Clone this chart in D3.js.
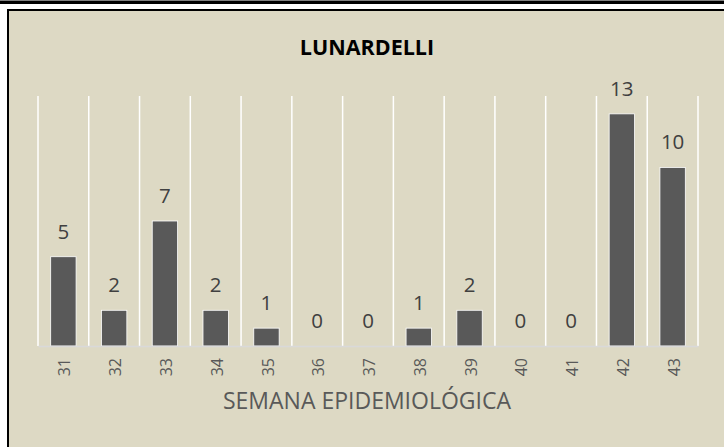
<!DOCTYPE html>
<html lang="pt">
<head>
<meta charset="utf-8">
<title>Lunardelli</title>
<script src="https://d3js.org/d3.v7.min.js"></script>
<style>
  body { margin: 0; background: #fff; }
  svg { display: block; }
</style>
</head>
<body>
<script>
// data
const semanas = ["31","32","33","34","35","36","37","38","39","40","41","42","43"];
const casos   = [5, 2, 7, 2, 1, 0, 0, 1, 2, 0, 0, 13, 10];
const titulo = "LUNARDELLI";
const tituloX = "SEMANA EPIDEMIOLÓGICA";

const W = 724, H = 447;
const plot = { left: 38, right: 698, top: 96, bottom: 346 };
const font = "'Open Sans', 'Noto Sans', sans-serif";

const svg = d3.select("body").append("svg")
  .attr("width", W).attr("height", H);

// frame: top double rule, left rule, tan fill
svg.append("rect").attr("x", 0).attr("y", 0).attr("width", W).attr("height", 1).attr("fill", "#808080");
svg.append("rect").attr("x", 0).attr("y", 1).attr("width", W).attr("height", 3).attr("fill", "#000");
svg.append("rect").attr("x", 7).attr("y", 9).attr("width", W - 7).attr("height", H - 9).attr("fill", "#000");
svg.append("rect").attr("x", 9).attr("y", 11).attr("width", W - 9).attr("height", H - 11).attr("fill", "#DDD9C4");

// scales
const x = d3.scaleBand().domain(semanas).range([plot.left, plot.right]).padding(0);
const y = d3.scaleLinear().domain([0, 14]).range([plot.bottom, plot.top]);
const bw = x.bandwidth() * 0.5;

// vertical gridlines at category boundaries
const bounds = semanas.map(s => x(s)).concat([x(semanas[semanas.length - 1]) + x.bandwidth()]);
svg.append("g").selectAll("line").data(bounds).enter().append("line")
  .attr("x1", d => d).attr("x2", d => d)
  .attr("y1", y(14)).attr("y2", y(0))
  .attr("stroke", "#fff").attr("stroke-width", 1.5);

// bars
svg.append("g").selectAll("rect").data(casos).enter().append("rect")
  .attr("x", (d, i) => x(semanas[i]) + (x.bandwidth() - bw) / 2)
  .attr("y", d => y(d))
  .attr("width", bw)
  .attr("height", d => y(0) - y(d))
  .attr("fill", "#595959")
  .attr("stroke", "#fff").attr("stroke-width", d => d > 0 ? 0.8 : 0);

// x axis line
const axis = svg.append("g").attr("transform", `translate(0,${plot.bottom})`)
  .call(d3.axisBottom(x).tickSize(0).tickFormat(""));
axis.select(".domain").attr("stroke", "#D9D9D9").attr("stroke-width", 1.5);

// rotated tick labels
svg.append("g").selectAll("text").data(semanas).enter().append("text")
  .attr("transform", d => `translate(${x(d) + x.bandwidth() / 2 + 1.5},358) rotate(-90)`)
  .attr("text-anchor", "end")
  .attr("dy", "0.35em")
  .attr("font-family", font).attr("font-size", 16)
  .attr("fill", "#595959")
  .text(d => d);

// value labels
svg.append("g").selectAll("text").data(casos).enter().append("text")
  .attr("x", (d, i) => x(semanas[i]) + x.bandwidth() / 2)
  .attr("y", d => y(d) - 18)
  .attr("text-anchor", "middle")
  .attr("font-family", font).attr("font-size", 20.5)
  .attr("fill", "#404040")
  .text(d => d);

// titles
svg.append("text")
  .attr("x", 367).attr("y", 55)
  .attr("text-anchor", "middle")
  .attr("font-family", font).attr("font-weight", "bold").attr("font-size", 21.5)
  .attr("fill", "#000")
  .text(titulo);

svg.append("text")
  .attr("x", 367).attr("y", 409)
  .attr("text-anchor", "middle")
  .attr("font-family", font).attr("font-size", 23)
  .attr("fill", "#595959")
  .text(tituloX);
</script>
</body>
</html>
